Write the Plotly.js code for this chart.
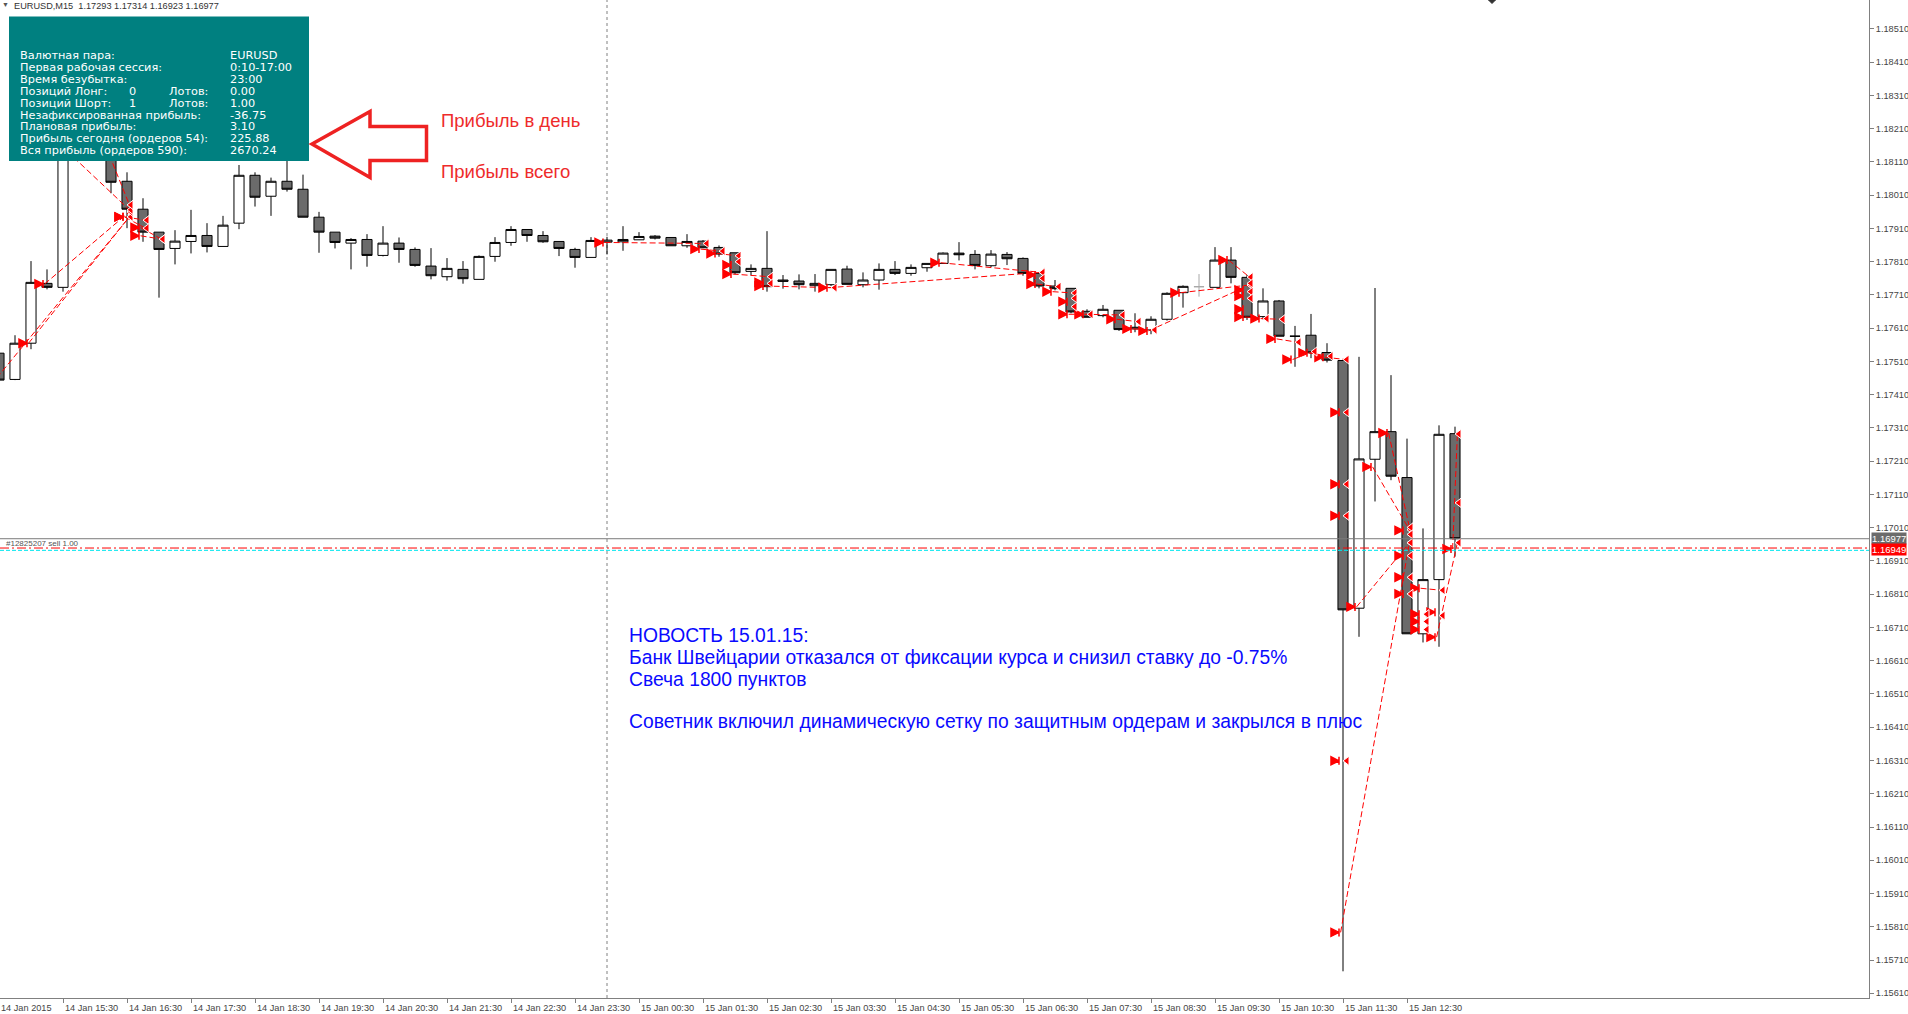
<!DOCTYPE html>
<html><head><meta charset="utf-8">
<script src="https://cdn.plot.ly/plotly-3.0.1.min.js"></script>
<style>html,body{margin:0;padding:0;background:#fff;overflow:hidden}#chart{width:1908px;height:1014px}</style>
</head><body><div id="chart"></div><script>
// ---- Data (EURUSD M15, bars from 14 Jan 14:30 to 15 Jan 13:15) ----
const openPx = [1.17535,1.17456,1.17565,1.17745,1.17733,1.18260,1.18360,1.18220,1.18052,1.17968,
1.17899,1.17850,1.17871,1.17889,1.17856,1.17926,1.18070,1.18007,1.18052,1.18028,
1.17944,1.17899,1.17866,1.17877,1.17829,1.17866,1.17847,1.17797,1.17765,1.17787,
1.17757,1.17826,1.17868,1.17907,1.17889,1.17871,1.17847,1.17823,1.17869,1.17870,
1.17876,1.17887,1.17883,1.17858,1.17872,1.17853,1.17837,1.17781,1.17790,1.17755,
1.17752,1.17738,1.17741,1.17788,1.17741,1.17755,1.17787,1.17775,1.17792,1.17805,
1.17836,1.17832,1.17798,1.17832,1.17820,1.17775,1.17737,1.17730,1.17661,1.17648,
1.17664,1.17608,1.17605,1.17637,1.17717,1.17735,1.17733,1.17815,1.17763,1.17645,
1.17692,1.17586,1.17589,1.17537,1.17513,1.16768,1.17216,1.17299,1.17161,1.16691,
1.16854,1.17293];
const highPx = [1.17544,1.17589,1.17812,1.17787,1.18290,1.18410,1.18450,1.18260,1.18079,1.18001,
1.17899,1.17905,1.17966,1.17926,1.17948,1.18101,1.18079,1.18063,1.18120,1.18072,
1.17960,1.17899,1.17881,1.17893,1.17917,1.17883,1.17853,1.17851,1.17821,1.17812,
1.17829,1.17884,1.17917,1.17907,1.17902,1.17871,1.17852,1.17884,1.17885,1.17917,
1.17899,1.17890,1.17883,1.17893,1.17875,1.17859,1.17837,1.17802,1.17902,1.17770,
1.17772,1.17773,1.17787,1.17798,1.17778,1.17805,1.17812,1.17802,1.17805,1.17838,
1.17869,1.17845,1.17845,1.17839,1.17823,1.17775,1.17755,1.17730,1.17667,1.17680,
1.17664,1.17655,1.17646,1.17718,1.17739,1.17773,1.17854,1.17854,1.17770,1.17730,
1.17695,1.17617,1.17653,1.17565,1.17513,1.17524,1.17731,1.17469,1.17278,1.17008,
1.17318,1.17314];
const lowPx = [1.17430,1.17454,1.17547,1.17727,1.17720,1.18200,1.18180,1.18016,1.17911,1.17870,
1.17702,1.17802,1.17835,1.17838,1.17856,1.17908,1.17976,1.17948,1.18021,1.17944,
1.17837,1.17850,1.17787,1.17795,1.17826,1.17807,1.17795,1.17757,1.17753,1.17744,
1.17757,1.17810,1.17858,1.17870,1.17867,1.17827,1.17792,1.17823,1.17832,1.17843,
1.17876,1.17877,1.17858,1.17852,1.17851,1.17825,1.17772,1.17769,1.17720,1.17729,
1.17727,1.17720,1.17737,1.17742,1.17733,1.17726,1.17770,1.17768,1.17780,1.17805,
1.17814,1.17787,1.17794,1.17800,1.17768,1.17730,1.17724,1.17655,1.17643,1.17643,
1.17602,1.17598,1.17592,1.17633,1.17672,1.17705,1.17733,1.17745,1.17635,1.17637,
1.17586,1.17494,1.17520,1.17507,1.15676,1.16682,1.17089,1.17153,1.16691,1.16665,
1.16652,1.16923];
const closePx = [1.17454,1.17565,1.17748,1.17733,1.18260,1.18360,1.18220,1.18049,1.17968,1.17899,
1.17847,1.17872,1.17889,1.17856,1.17920,1.18070,1.18004,1.18052,1.18028,1.17944,
1.17899,1.17868,1.17877,1.17829,1.17866,1.17847,1.17799,1.17768,1.17790,1.17759,
1.17826,1.17868,1.17907,1.17889,1.17870,1.17850,1.17823,1.17874,1.17875,1.17877,
1.17886,1.17881,1.17858,1.17871,1.17852,1.17833,1.17777,1.17790,1.17735,1.17751,
1.17741,1.17745,1.17787,1.17742,1.17755,1.17787,1.17775,1.17793,1.17805,1.17836,
1.17831,1.17799,1.17833,1.17819,1.17775,1.17737,1.17729,1.17659,1.17643,1.17667,
1.17606,1.17613,1.17637,1.17715,1.17736,1.17735,1.17815,1.17763,1.17643,1.17692,
1.17586,1.17586,1.17536,1.17514,1.16763,1.17217,1.17299,1.17165,1.16691,1.16854,
1.17291,1.16977];
const grayBars = [75];   // doji drawn in light grey

// Trades (sell orders): open bar / price -> close bar / price
const tradeOpenBar  = [0,2,3,4,6,8,8,9,9,38,44,45,46,48,52,59,65,66,67,68,70,71,72,74,77,78,79,80,81,82,83,84,85,86,87,89,90,91];
const tradeOpenPx   = [1.17460,1.17565,1.17743,1.18161,1.18257,1.17945,1.17945,1.17913,1.17888,1.17868,1.17848,1.17835,1.17773,1.17737,1.17732,1.17807,1.17743,1.17720,1.17652,1.17652,1.17637,1.17608,1.17602,1.17717,1.17815,1.17644,1.17639,1.17578,1.17516,1.17536,1.17523,1.15793,1.16772,1.17193,1.17295,1.16828,1.16681,1.16946];
const tradeCloseBar = [8,8,8,8,8,9,9,10,10,44,45,46,48,52,65,65,66,67,68,70,71,72,78,78,78,79,80,81,82,83,84,88,88,88,88,90,91,91];
const tradeClosePx  = [1.17945,1.17945,1.17960,1.17966,1.17981,1.17935,1.17911,1.17878,1.17878,1.17865,1.17842,1.17828,1.17765,1.17732,1.17778,1.17778,1.17735,1.17716,1.17652,1.17650,1.17630,1.17605,1.17740,1.17740,1.17764,1.17639,1.17637,1.17568,1.17540,1.17526,1.17516,1.16965,1.16965,1.17004,1.17011,1.16822,1.16965,1.17292];
const extraOpenBar  = [84,84,84,84,88,88,88,88,89,89,89,90,78,78,78,46,48,65,67];
const extraOpenPx   = [1.17357,1.17141,1.17046,1.16309,1.17002,1.16926,1.16861,1.16811,1.16750,1.16728,1.16704,1.16756,1.17725,1.17707,1.17667,1.17800,1.17748,1.17770,1.17690];
const extraCloseBar = [84,84,84,84,88,88,88,88,89,89,89,90,91,78,78,78,46,48,65,67,67];
const extraClosePx  = [1.17357,1.17141,1.17046,1.16309,1.16990,1.16926,1.16861,1.16811,1.16750,1.16728,1.16704,1.16746,1.17085,1.17745,1.17720,1.17700,1.17810,1.17745,1.17760,1.17700,1.17675];

const bidPrice = 1.16977;
const orderPrice = 1.16949;
const breakevenPrice = 1.16942;
const daySeparatorBar = 38;

const xTickBars = [0.08,4,8,12,16,20,24,28,32,36,40,44,48,52,56,60,64,68,72,76,80,84,88];
const xTickLabels = ["14 Jan 2015","14 Jan 15:30","14 Jan 16:30","14 Jan 17:30","14 Jan 18:30","14 Jan 19:30","14 Jan 20:30","14 Jan 21:30","14 Jan 22:30","14 Jan 23:30","15 Jan 00:30","15 Jan 01:30","15 Jan 02:30","15 Jan 03:30","15 Jan 04:30","15 Jan 05:30","15 Jan 06:30","15 Jan 07:30","15 Jan 08:30","15 Jan 09:30","15 Jan 10:30","15 Jan 11:30","15 Jan 12:30"];

const headerText = "EURUSD,M15  1.17293 1.17314 1.16923 1.16977";
const infoLabels = ["Валютная пара:","Первая рабочая сессия:","Время безубытка:","Позиций Лонг:","Позиций Шорт:","Незафиксированная прибыль:","Плановая прибыль:","Прибыль сегодня (ордеров 54):","Вся прибыль (ордеров 590):"];
const infoCounts = ["","","","0","1","","","",""];
const infoLots   = ["","","","Лотов:","Лотов:","","","",""];
const infoValues = ["EURUSD","0:10-17:00","23:00","0.00","1.00","-36.75","3.10","225.88","2670.24"];
const redNotes = ["Прибыль в день","Прибыль всего"];
const newsLines = ["НОВОСТЬ 15.01.15:","Банк Швейцарии отказался от фиксации курса и снизил ставку до -0.75%","Свеча 1800 пунктов","Советник включил динамическую сетку по защитным ордерам и закрылся в плюс"];
const orderLabel = "#12825207 sell 1.00";

// ---- Build ----
const W = 1869, H = 998;           // plot area in pixels
const px = x => x / W;
const py = y => 1 - y / H;

const idx = openPx.map((_, i) => i);
const mainIdx = idx.filter(i => !grayBars.includes(i));
const pick = (arr, ids) => ids.map(i => arr[i]);

const candleMain = {
  type: 'candlestick', x: mainIdx, open: pick(openPx, mainIdx), high: pick(highPx, mainIdx),
  low: pick(lowPx, mainIdx), close: pick(closePx, mainIdx),
  increasing: {line: {color: '#000000', width: 1}, fillcolor: '#ffffff'},
  decreasing: {line: {color: '#000000', width: 1}, fillcolor: '#6b6b6b'},
  whiskerwidth: 0, hoverinfo: 'skip', showlegend: false
};
const candleGray = {
  type: 'candlestick', x: grayBars, open: pick(openPx, grayBars), high: pick(highPx, grayBars),
  low: pick(lowPx, grayBars), close: pick(closePx, grayBars),
  increasing: {line: {color: '#a8a8a8', width: 1}, fillcolor: '#ffffff'},
  decreasing: {line: {color: '#a8a8a8', width: 1}, fillcolor: '#ffffff'},
  whiskerwidth: 0, hoverinfo: 'skip', showlegend: false
};

const lx = [], ly = [];
tradeOpenBar.forEach((b, k) => {
  lx.push(b - 0.15, tradeCloseBar[k] + 0.15, null);
  ly.push(tradeOpenPx[k], tradeClosePx[k], null);
});
const tradeLines = {type: 'scatter', mode: 'lines', x: lx, y: ly, connectgaps: false,
  line: {color: '#ff0000', width: 1, dash: '6px,3px'}, hoverinfo: 'skip', showlegend: false};
const openMarks = {type: 'scatter', mode: 'markers',
  x: tradeOpenBar.concat(extraOpenBar).map(b => b - 0.25),
  y: tradeOpenPx.concat(extraOpenPx),
  marker: {symbol: 'arrow-bar-right', size: 8, color: '#ff0000', line: {width: 1.5, color: '#ff0000'}},
  hoverinfo: 'skip', showlegend: false};
const closeMarks = {type: 'scatter', mode: 'markers',
  x: tradeCloseBar.concat(extraCloseBar).map(b => b + 0.25),
  y: tradeClosePx.concat(extraClosePx),
  marker: {symbol: 'triangle-left', size: 8, color: '#ff0000', line: {width: 1, color: '#ffffff'}},
  hoverinfo: 'skip', showlegend: false};

const FONT = 'Liberation Sans, Arial, sans-serif';
const INFO_FONT = 'DejaVu Sans, Verdana, sans-serif';
const annotations = [];
const txt = (text, x, y, size, color, family, extra) => annotations.push(Object.assign({
  text, xref: 'paper', yref: 'paper', x: px(x), y: py(y), xanchor: 'left', yanchor: 'middle',
  showarrow: false, font: {family: family || FONT, size, color}, borderpad: 0}, extra || {}));

txt('\u25BC', 1, 5, 7, '#555555');
txt(headerText, 13, 6, 9.2, '#333333');
infoLabels.forEach((t, k) => {
  const y = 55 + 12 * k;
  txt(t, 19, y, 11.3, '#ffffff', INFO_FONT);
  if (infoCounts[k]) txt(infoCounts[k], 128, y, 11.3, '#ffffff', INFO_FONT);
  if (infoLots[k]) txt(infoLots[k], 168, y, 11.3, '#ffffff', INFO_FONT);
  txt(infoValues[k], 229, y, 11.3, '#ffffff', INFO_FONT);
});
txt(redNotes[0], 440, 121, 18.5, '#ee2b2b');
txt(redNotes[1], 440, 171, 18.5, '#ee2b2b');
[635, 657, 679, 721.5].forEach((y, k) => txt(newsLines[k], 628, y, 19.3, '#0a0aff'));
txt(orderLabel, 5, 543.5, 8, '#555555');
// x-axis labels: left-aligned at each tick, as in the terminal
xTickBars.forEach((b, k) => annotations.push({text: xTickLabels[k], xref: 'x', yref: 'paper',
  x: b, y: py(1007.5), xanchor: 'left', yanchor: 'middle', xshift: k === 0 ? 0 : 1, showarrow: false, borderpad: 0,
  font: {family: FONT, size: 9.2, color: '#444444'}}));
annotations.push({text: bidPrice.toFixed(5), xref: 'paper', yref: 'y', x: px(1871), y: bidPrice,
  xanchor: 'left', yanchor: 'middle', showarrow: false, bgcolor: '#6b6b6b', borderpad: 0,
  font: {family: FONT, size: 9.5, color: '#ffffff'}});
annotations.push({text: orderPrice.toFixed(5), xref: 'paper', yref: 'y', x: px(1871), y: orderPrice - 0.00003,
  xanchor: 'left', yanchor: 'middle', showarrow: false, bgcolor: '#ff0000', borderpad: 0,
  font: {family: FONT, size: 9.5, color: '#ffffff'}});

const toPath = pts => 'M' + pts.map(p => px(p[0]) + ',' + py(p[1])).join(' L') + ' Z';
const arrowPts = [[312,144],[370,111.5],[370,126.5],[426.5,126.5],[426.5,160.5],[370,160.5],[370,177.5]];
const chevronPts = [[1488.5,0],[1495.5,0],[1492,3.5]];

const shapes = [
  {type: 'line', xref: 'x', yref: 'paper', x0: daySeparatorBar, x1: daySeparatorBar, y0: 0, y1: 1,
   line: {color: '#808080', width: 1, dash: '3px,3px'}, layer: 'below'},
  {type: 'line', xref: 'paper', yref: 'y', x0: 0, x1: 1, y0: bidPrice, y1: bidPrice,
   line: {color: '#7a7a7a', width: 1}, layer: 'above'},
  {type: 'line', xref: 'paper', yref: 'y', x0: 0, x1: 1, y0: orderPrice, y1: orderPrice,
   line: {color: '#ff0000', width: 1, dash: '9px,3px,2px,3px'}, layer: 'above'},
  {type: 'line', xref: 'paper', yref: 'y', x0: 0, x1: 1, y0: breakevenPrice, y1: breakevenPrice,
   line: {color: '#00e5ee', width: 1, dash: '4px,2px'}, layer: 'above'},
  {type: 'rect', xref: 'paper', yref: 'paper', x0: px(9), x1: px(309), y0: py(161), y1: py(16.5),
   fillcolor: '#008080', line: {width: 0}, layer: 'above'},
  {type: 'path', xref: 'paper', yref: 'paper', path: toPath(arrowPts),
   line: {color: '#ee2222', width: 3.5}, fillcolor: 'rgba(0,0,0,0)', layer: 'above'},
  {type: 'path', xref: 'paper', yref: 'paper', path: toPath(chevronPts),
   line: {color: '#333333', width: 1}, fillcolor: '#333333', layer: 'above'}
];

const layout = {
  width: 1908, height: 1014,
  margin: {l: 0, r: 39, t: 0, b: 16, pad: 0},
  paper_bgcolor: '#ffffff', plot_bgcolor: '#ffffff',
  showlegend: false, hovermode: false, dragmode: false,
  boxgap: 0.1, boxgroupgap: 0.3,
  xaxis: {range: [0.0625, 116.875], showgrid: false, zeroline: false, rangeslider: {visible: false},
    showline: true, linecolor: '#808080', linewidth: 1, ticks: 'outside', ticklen: 4, tickcolor: '#808080',
    tickmode: 'array', tickvals: xTickBars.slice(1), showticklabels: false, fixedrange: true},
  yaxis: {side: 'right', range: [1.155957, 1.185972], showgrid: false, zeroline: false,
    showline: true, linecolor: '#808080', linewidth: 1, ticks: 'outside', ticklen: 4, tickcolor: '#808080',
    tick0: 1.1561, dtick: 0.001, tickformat: '.5f',
    tickfont: {family: FONT, size: 9.2, color: '#444444'}, fixedrange: true},
  shapes, annotations
};

Plotly.newPlot('chart', [candleMain, candleGray, tradeLines, openMarks, closeMarks], layout,
  {staticPlot: true, displayModeBar: false});
</script></body></html>
